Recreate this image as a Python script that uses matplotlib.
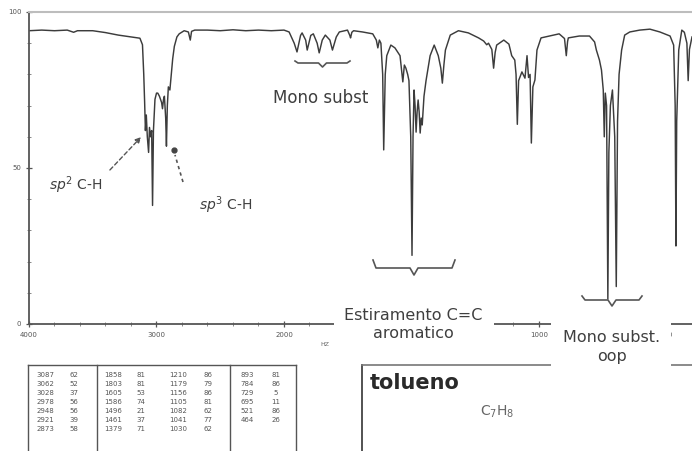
import numpy as np
import matplotlib
matplotlib.use("Agg")
import matplotlib.pyplot as plt
from matplotlib.lines import Line2D
from matplotlib.patches import Rectangle

# ---------------- data ----------------
wavenumber = [4000, 3900, 3800, 3700, 3650, 3620, 3500, 3400, 3300, 3200, 3130, 3110, 3100,
              3093, 3087, 3080, 3072, 3062, 3055, 3046, 3038, 3031, 3024, 3012, 3000, 2990,
              2977, 2960, 2953, 2945, 2938, 2928, 2922, 2915, 2907, 2895, 2884, 2873, 2860,
              2840, 2822, 2783, 2750, 2735, 2725, 2700, 2600, 2500, 2400, 2300, 2200, 2100,
              2000, 1980, 1960, 1949, 1935, 1929, 1915, 1909, 1895, 1885, 1870, 1862, 1850,
              1838, 1820, 1810, 1795, 1783, 1751, 1742, 1739, 1734, 1727, 1692, 1652, 1638,
              1632, 1626, 1620, 1613, 1609, 1603, 1597, 1581, 1565, 1545, 1541, 1534, 1528,
              1522, 1515, 1510, 1503, 1498, 1494, 1490, 1486, 1482, 1478, 1474, 1470, 1466,
              1462, 1458, 1451, 1443, 1427, 1411, 1395, 1385, 1379, 1373, 1367, 1348, 1316,
              1277, 1237, 1217, 1205, 1198, 1185, 1178, 1172, 1166, 1138, 1118, 1107, 1095,
              1090, 1085, 1080, 1067, 1055, 1047, 1041, 1035, 1030, 1024, 1016, 1008, 992,
              960, 921, 900, 893, 888, 885, 842, 802, 782, 775, 763, 755, 748, 744, 740, 735,
              730, 726, 720, 712, 703, 697, 692, 686, 676, 664, 644, 605, 565, 526, 486, 472,
              466, 463, 460, 452, 440, 430, 420, 415, 410, 400]
transmittance = [94.0, 94.2, 94.0, 94.2, 93.5, 94.0, 94.0, 93.4, 92.6, 92.0, 91.6, 89.5, 80,
                 71, 62, 67, 60, 55, 63, 60, 62, 38, 62, 72, 74, 74,
                 73, 71, 69, 72, 73, 66, 57, 70, 76, 75, 80, 85, 89,
                 92, 93, 94, 93.6, 91, 93.8, 94.2, 94.2, 94.0, 94.3, 94.0, 94.2, 94.0,
                 94.2, 93.6, 90, 87.2, 92.5, 93.3, 91, 87.8, 92.5, 93, 90, 86.9, 91,
                 92.6, 91, 87.8, 92, 93.6, 94.2, 92.5, 91.7, 93.5, 94, 93.6, 93, 91,
                 88.5, 91, 90, 80, 55.8, 80, 86, 89.4, 88.5, 86, 83, 77.6, 83,
                 82, 80, 78, 60, 22, 60, 75, 70, 61.5, 68, 71.8, 68, 61.2,
                 66, 63.8, 73, 78, 86, 89.4, 86, 82, 77.2, 83, 87.8, 92.6, 94,
                 93.3, 91.7, 90.7, 89.5, 90, 88, 82, 87, 89.4, 91, 89.7, 86, 84.6,
                 80, 64, 78, 80.8, 78.8, 86, 79, 80, 58, 76, 78.2, 87.8, 91.7,
                 92.3, 93, 91.5, 86, 90.5, 91.7, 92.3, 92.3, 90.4, 87.8, 84.6, 81.4, 75, 60, 74, 70,
                 8, 55, 70, 75, 60, 12, 65, 80, 87.8, 92.6, 93.6, 94.2, 94.5, 93.6, 92.3, 89.4,
                 70, 25, 65, 87.8, 94.2, 93.5, 90, 78, 88, 92]

x_major_ticks = [4000, 3000, 2000, 1000, 500]
x_major_labels = ["4000", "3000", "2000", "1000", "500"]
y_major_ticks = [0, 50, 100]
y_major_labels = ["0", "50", "100"]

peak_col1_wn = ["3087", "3062", "3028", "2978", "2948", "2921", "2873"]
peak_col1_t = ["62", "52", "37", "56", "56", "39", "58"]
peak_col2_wn = ["1858", "1803", "1605", "1586", "1496", "1461", "1379"]
peak_col2_t = ["81", "81", "53", "74", "21", "37", "71"]
peak_col3_wn = ["1210", "1179", "1156", "1105", "1082", "1041", "1030"]
peak_col3_t = ["86", "79", "86", "81", "62", "77", "62"]
peak_col4_wn = ["893", "784", "729", "695", "521", "464"]
peak_col4_t = ["81", "86", "5", "11", "86", "26"]

# ---------------- figure ----------------
W, H = 692, 451
fig = plt.figure(figsize=(W / 100, H / 100), dpi=100)
fig.patch.set_facecolor("white")


def px(x, y):
    return (x / W, 1 - y / H)


ax = fig.add_axes([29 / W, 127 / H, 663 / W, 312 / H])


def fwd(w):
    w = np.asarray(w, dtype=float)
    return np.where(w > 2000, 2000 + (w - 2000) / 2, w)


def inv(u):
    u = np.asarray(u, dtype=float)
    return np.where(u > 2000, 2000 + (u - 2000) * 2, u)


ax.set_xscale("function", functions=(fwd, inv))
ax.plot(wavenumber, transmittance, color="#3c3c3c", lw=1.05, zorder=2)
ax.set_xlim(4000, 400)
ax.set_ylim(0, 100)

ax.set_xticks(x_major_ticks)
ax.set_xticklabels(x_major_labels)
ax.set_xticks(list(range(2200, 4000, 200)) + list(range(500, 2000, 100)), minor=True)
ax.set_yticks(y_major_ticks)
ax.set_yticklabels(y_major_labels)
ax.set_yticks(list(range(10, 100, 10)), minor=True)
ax.tick_params(axis="both", which="major", labelsize=5, colors="#555555",
               direction="inout", length=5, width=0.9, pad=3)
ax.tick_params(axis="both", which="minor", colors="#888888",
               direction="inout", length=3, width=0.7)
for s in ("left", "bottom"):
    ax.spines[s].set_color("#555555")
    ax.spines[s].set_linewidth(1.3)
ax.spines["top"].set_color("#bdbdbd")
ax.spines["top"].set_linewidth(1.5)
ax.spines["right"].set_visible(False)

fig.text(*px(325, 345), "HZ", fontsize=4.5, color="#666666", ha="center", va="center")

# ---------------- annotations ----------------
txtc = "#3f3f3f"
fig.text(*px(76, 185), r"$sp^2$ C-H", fontsize=10, color=txtc, ha="center", va="center")
fig.text(*px(226, 205), r"$sp^3$ C-H", fontsize=10, color=txtc, ha="center", va="center")
ax.annotate("", xy=px(143, 135), xycoords="figure fraction",
            xytext=px(108, 172), textcoords="figure fraction",
            arrowprops=dict(arrowstyle="-|>", linestyle=(0, (3, 2)), color="#555555",
                            lw=1.0, mutation_scale=8))
fig.add_artist(Line2D([183 / W, 175 / W], [1 - 182 / H, 1 - 155 / H], ls=(0, (2, 2)),
                      color="#555555", lw=1.2))
fig.add_artist(Line2D([174 / W], [1 - 150 / H], marker="o", ms=3.5, color="#444444"))

fig.text(*px(321, 98), "Mono subst", fontsize=12, color=txtc, ha="center", va="center")


def brace(x0, x1, y, tip=5, curl=5):
    xc = (x0 + x1) / 2
    xs = [x0, x0 + 3, xc - 4, xc, xc + 4, x1 - 3, x1]
    ys = [y - curl, y, y, y + tip, y, y, y - curl]
    fig.add_artist(Line2D([v / W for v in xs], [1 - v / H for v in ys],
                          color="#555555", lw=1.2, zorder=5))


brace(295, 350, 63, tip=4, curl=2)
brace(373, 455, 268, tip=7, curl=8)
brace(582, 642, 300, tip=6, curl=4)

# white label boxes covering the axis
for (x0, y0, x1, y1) in [(334, 302, 494, 346), (551, 321, 671, 371)]:
    fig.add_artist(Rectangle((x0 / W, 1 - y1 / H), (x1 - x0) / W, (y1 - y0) / H,
                             transform=fig.transFigure, facecolor="white",
                             edgecolor="none", zorder=5))

fig.text(*px(413, 324), "Estiramento C=C\naromatico", fontsize=11.5, color=txtc,
         ha="center", va="center", linespacing=1.25, zorder=6)
fig.text(*px(612, 347), "Mono subst.\noop", fontsize=11.5, color=txtc,
         ha="center", va="center", linespacing=1.3, zorder=6)

# ---------------- peak table ----------------
lc = "#555555"
fig.add_artist(Line2D([28 / W, 296 / W], [1 - 365 / H, 1 - 365 / H], color=lc, lw=1.0))
for xv in (28, 97, 230, 296):
    fig.add_artist(Line2D([xv / W, xv / W], [1 - 365 / H, 0], color=lc, lw=1.0))
row_y = [375, 384, 393, 402, 411, 420, 429]
cols = [(45, peak_col1_wn, 74, peak_col1_t),
        (113, peak_col2_wn, 141, peak_col2_t),
        (178, peak_col3_wn, 208, peak_col3_t),
        (247, peak_col4_wn, 276, peak_col4_t)]
for xw, wns, xt, ts in cols:
    for i, (a, b) in enumerate(zip(wns, ts)):
        fig.text(*px(xw, row_y[i]), a, fontsize=5, color="#555555", ha="center", va="center")
        fig.text(*px(xt, row_y[i]), b, fontsize=5, color="#555555", ha="center", va="center")

# ---------------- compound box ----------------
fig.add_artist(Line2D([362 / W, 362 / W], [1 - 365 / H, 0], color="#444444", lw=1.3, zorder=1))
fig.add_artist(Line2D([362 / W, 1.0], [1 - 365 / H, 1 - 365 / H], color="#777777", lw=1.2, zorder=1))
fig.text(*px(370, 383), "tolueno", fontsize=15, fontweight="bold", color="#2a2a2a",
         ha="left", va="center")
fig.text(*px(497, 412), r"C$_7$H$_8$", fontsize=10, color="#666666", ha="center", va="center")

fig.savefig("out.png", dpi=100, facecolor="white")
